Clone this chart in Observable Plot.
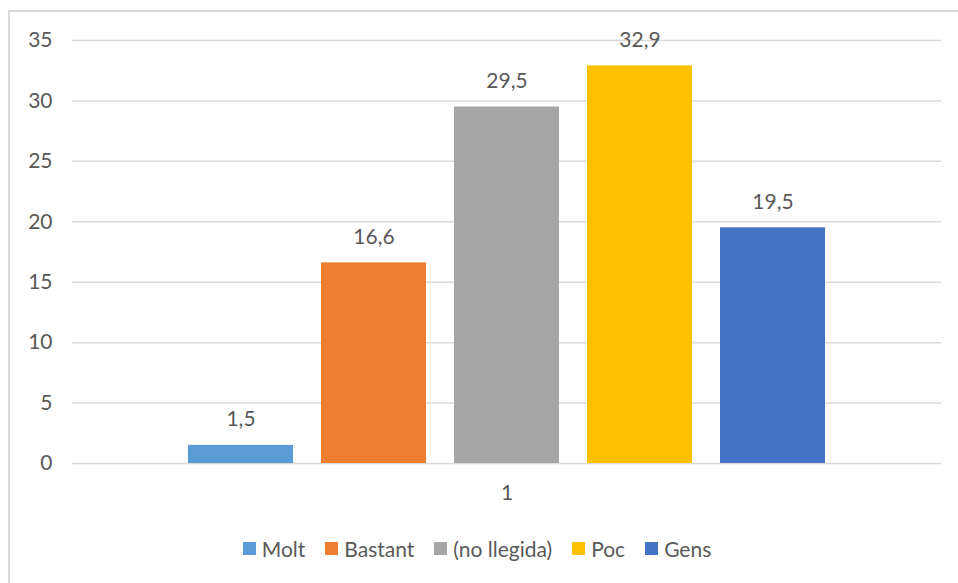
<!DOCTYPE html>
<html><head><meta charset="utf-8">
<script src="https://cdn.jsdelivr.net/npm/d3@7"></script>
<script src="https://cdn.jsdelivr.net/npm/@observablehq/plot@0.6"></script>
<style>
body{margin:0;background:#fff;font-family:Lato,"Open Sans",sans-serif;width:958px;height:583px;overflow:hidden;position:relative}
#frame{position:absolute;left:8px;top:10px;width:1000px;height:700px;border-left:2px solid #d9d9d9;border-top:2px solid #d9d9d9;box-sizing:border-box}
#chart{position:absolute;left:0;top:0}
#legend{position:absolute;left:-2px;top:536px;width:958px;display:flex;justify-content:center;align-items:center;font-size:21px;color:#595959;font-family:Lato,sans-serif}
.item{display:flex;align-items:center;margin:0 10px}
.sw{width:13px;height:13px;margin-right:6px}
</style></head>
<body>
<div id="frame"></div>
<div id="chart"></div>
<div id="legend"></div>
<script>
const categories = ["1"];
const series = ["Molt", "Bastant", "(no llegida)", "Poc", "Gens"];
const values = [1.5, 16.6, 29.5, 32.9, 19.5];
const colors = ["#5B9BD5", "#ED7D31", "#A5A5A5", "#FFC000", "#4472C4"];
const yTicks = [0, 5, 10, 15, 20, 25, 30, 35];

const data = series.map((s, i) => ({category: categories[0], series: s, value: values[i]}));
const fmt = v => v.toFixed(1).replace(".", ",");

const chart = Plot.plot({
  width: 958, height: 520,
  marginLeft: 72, marginRight: 17, marginTop: 40, marginBottom: 57,
  style: {fontFamily: "Lato, sans-serif", fontSize: "21px", color: "#595959", background: "transparent"},
  fx: {domain: categories, padding: 0, label: null},
  x: {domain: series, paddingInner: 0.21, paddingOuter: 0.87, axis: null},
  y: {domain: [0, 35], label: null},
  color: {domain: series, range: colors},
  marks: [
    Plot.gridY(yTicks, {stroke: "#d9d9d9", strokeOpacity: 1, strokeWidth: 1.5}),
    Plot.axisY(yTicks, {tickSize: 0, tickPadding: 20, fill: "#595959", label: null, fontSize: 21}),
    Plot.axisFx({anchor: "bottom", tickSize: 0, tickPadding: 22, label: null, fontSize: 21, fill: "#595959"}),
    Plot.barY(data, {fx: "category", x: "series", y: "value", fill: "series"}),
    Plot.text(data, {fx: "category", x: "series", y: "value", text: d => fmt(d.value), dy: -26, fill: "#595959", fontSize: 21})
  ]
});
document.getElementById("chart").appendChild(chart);

const legend = document.getElementById("legend");
series.forEach((s, i) => {
  const it = document.createElement("div");
  it.className = "item";
  const sw = document.createElement("span");
  sw.className = "sw";
  sw.style.background = colors[i];
  const tx = document.createElement("span");
  tx.textContent = s;
  it.appendChild(sw); it.appendChild(tx);
  legend.appendChild(it);
});
</script>
</body></html>
